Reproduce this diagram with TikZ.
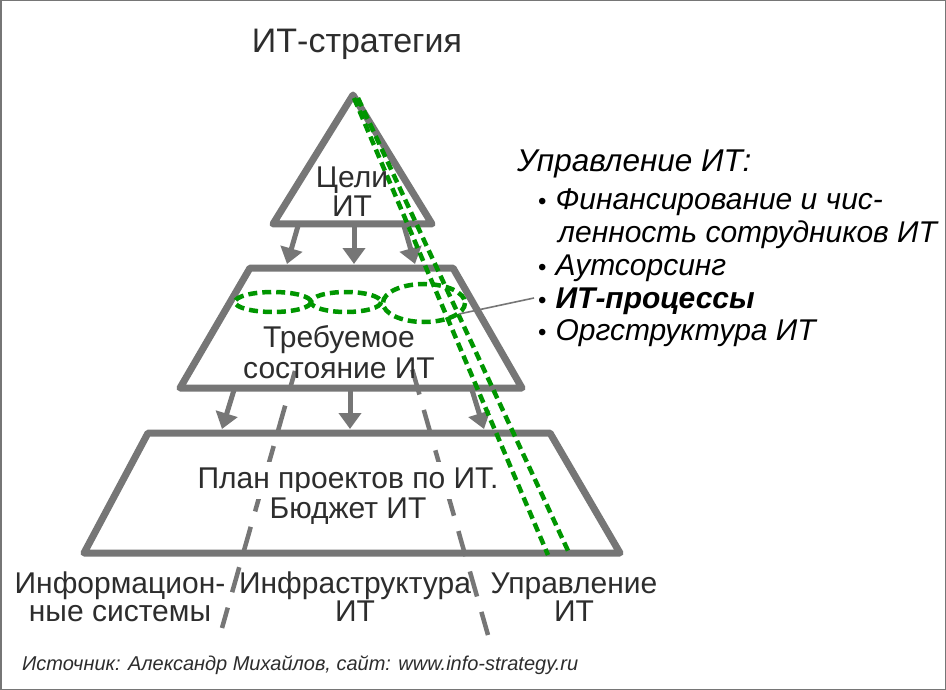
\documentclass[tikz,border=0pt]{standalone}
\usepackage{fontspec}
\setmainfont{Liberation Sans}
\usetikzlibrary{arrows.meta}
\definecolor{shapegray}{RGB}{118,118,118}
\definecolor{txtgray}{RGB}{45,45,45}
\definecolor{dgreen}{RGB}{0,150,0}
\tikzset{
  shapeline/.style={draw=shapegray, line width=7pt, line join=round, line cap=round},
  flowarrow/.style={draw=shapegray, line width=5pt, -{Triangle[length=16pt,width=22pt]}},
  sepline/.style={draw=shapegray, line width=4.5pt, dash pattern=on 26pt off 16pt},
  greendash/.style={draw=dgreen, line width=4.5pt, dash pattern=on 9pt off 5pt},
  bigtxt/.style={inner sep=0pt, text=txtgray, font=\fontsize{30}{34}\selectfont},
  listtxt/.style={inner sep=0pt, text=black, font=\fontsize{30}{34}\selectfont\itshape},
}
\newcommand{\mybul}{{\upshape\fontsize{24}{26}\selectfont•}\hspace{9pt}}
\begin{document}
\begin{tikzpicture}[x=1pt,y=-1pt]
\fill[white] (0,0) rectangle (946,690);
\useasboundingbox (0,0) rectangle (946,690);
\draw[shapegray, line width=3pt] (0,0) rectangle (946,690);

% title
\node[bigtxt, anchor=base, font=\fontsize{34}{38}\selectfont] (title) at (357,53) {ИТ-стратегия};

% triangle
\coordinate (apex) at (353,95);
\coordinate (tl) at (273,224);
\coordinate (tr) at (432,224);
\draw[shapeline] (apex) -- (tr) -- (tl) -- cycle;

% middle trapezoid
\coordinate (m1) at (250,268);
\coordinate (m2) at (453,268);
\coordinate (m3) at (522,388);
\coordinate (m4) at (180,388);
\draw[shapeline] (m1) -- (m2) -- (m3) -- (m4) -- cycle;

% bottom trapezoid
\coordinate (b1) at (148,433);
\coordinate (b2) at (550,433);
\coordinate (b3) at (620,553);
\coordinate (b4) at (84,553);
\draw[shapeline] (b1) -- (b2) -- (b3) -- (b4) -- cycle;

% arrows triangle -> middle
\coordinate (a1s) at (298,226); \coordinate (a1e) at (287,264);
\coordinate (a2s) at (354,226); \coordinate (a2e) at (354,264);
\coordinate (a3s) at (404,226); \coordinate (a3e) at (415,264);
\draw[flowarrow] (a1s) -- (a1e);
\draw[flowarrow] (a2s) -- (a2e);
\draw[flowarrow] (a3s) -- (a3e);

% arrows middle -> bottom
\coordinate (c1s) at (234,390); \coordinate (c1e) at (222,429);
\coordinate (c2s) at (350,390); \coordinate (c2e) at (350,429);
\coordinate (c3s) at (472,390); \coordinate (c3e) at (484,429);
\draw[flowarrow] (c1s) -- (c1e);
\draw[flowarrow] (c2s) -- (c2e);
\draw[flowarrow] (c3s) -- (c3e);

% separators
\coordinate (s1a) at (295,371); \coordinate (s1b) at (222,628);
\coordinate (s2a) at (409,358); \coordinate (s2b) at (488,635);
\draw[sepline, dash phase=6pt] (s1a) -- (s1b);
\draw[sepline, dash phase=30pt] (s2a) -- (s2b);

% green ellipses
\draw[greendash] (273,302) ellipse [x radius=38, y radius=10];
\draw[greendash] (346,302) ellipse [x radius=35, y radius=10];
\draw[greendash] (424,303) ellipse [x radius=41, y radius=19];

% green diagonal lines
\coordinate (g1a) at (354,98); \coordinate (g1b) at (548,555);
\coordinate (g2a) at (358,98); \coordinate (g2b) at (570,555);
\draw[greendash] (g1a) -- (g1b);
\draw[greendash] (g2a) -- (g2b);

% callout
\coordinate (co1) at (459,314);
\coordinate (co2) at (534,298);
\draw[shapegray, line width=1.6pt] (co1) -- (co2);

% pyramid texts
\node[bigtxt, anchor=base] (goals1) at (352,188) {Цели};
\node[bigtxt, anchor=base] (goals2) at (352,216) {ИТ};
\node[bigtxt, anchor=base] (state1) at (339,347) {Требуемое};
\node[bigtxt, anchor=base] (state2) at (339,378) {состояние ИТ};
\node[bigtxt, anchor=base, fill=white, inner xsep=3pt, inner ysep=5pt] (plan1) at (348,488) {План проектов по ИТ.};
\node[bigtxt, anchor=base, fill=white, inner xsep=3pt, inner ysep=5pt] (plan2) at (348,518) {Бюджет ИТ};

% bottom labels
\node[bigtxt, anchor=base] (is1) at (120,593) {Информацион-};
\node[bigtxt, anchor=base] (is2) at (120,621) {ные системы};
\node[bigtxt, anchor=base] (inf1) at (355,593) {Инфраструктура};
\node[bigtxt, anchor=base] (inf2) at (355,621) {ИТ};
\node[bigtxt, anchor=base] (mg1) at (574,593) {Управление};
\node[bigtxt, anchor=base] (mg2) at (574,621) {ИТ};

% right list
\node[listtxt, anchor=base west, font=\fontsize{31.5}{35}\selectfont\itshape] (lh) at (517,172) {Управление ИТ:};
\node[listtxt, anchor=base west] (l1) at (538,210) {\mybul Финансирование и чис-};
\node[listtxt, anchor=base west] (l1b) at (558,242) {ленность сотрудников ИТ};
\node[listtxt, anchor=base west] (l2) at (538,275) {\mybul Аутсорсинг};
\node[listtxt, anchor=base west] (l3) at (538,308) {\mybul\bfseries ИТ-процессы};
\node[listtxt, anchor=base west] (l4) at (538,340) {\mybul Оргструктура ИТ};

% source
\node[inner sep=0pt, anchor=base west, text=txtgray, font=\fontsize{20}{23}\selectfont\itshape] (src) at (22,670) {Источник: Александр Михайлов, сайт: www.info-strategy.ru};
\end{tikzpicture}
\end{document}
